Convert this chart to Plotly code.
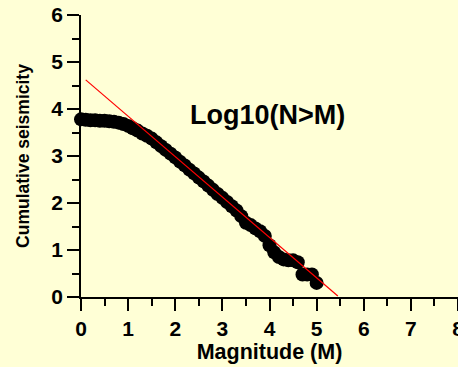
import plotly.graph_objects as go

# Data
magnitude = [0.0, 0.1, 0.2, 0.3, 0.4, 0.5, 0.6, 0.7, 0.8, 0.9,
             1.0, 1.1, 1.2, 1.3, 1.4, 1.5, 1.6, 1.7, 1.8, 1.9,
             2.0, 2.1, 2.2, 2.3, 2.4, 2.5, 2.6, 2.7, 2.8, 2.9,
             3.0, 3.1, 3.2, 3.3, 3.4, 3.5, 3.6, 3.7, 3.8, 3.9,
             4.0, 4.1, 4.2, 4.3, 4.4, 4.5, 4.6, 4.7, 4.8, 4.9, 5.0]
log_cum = [3.78, 3.77, 3.76, 3.76, 3.75, 3.75, 3.74, 3.73, 3.71, 3.68,
           3.64, 3.59, 3.54, 3.48, 3.43, 3.37, 3.29, 3.21, 3.13, 3.05,
           2.97, 2.88, 2.80, 2.71, 2.63, 2.54, 2.46, 2.37, 2.28, 2.19,
           2.11, 2.02, 1.93, 1.84, 1.72, 1.58, 1.53, 1.46, 1.40, 1.30,
           1.10, 0.95, 0.85, 0.80, 0.78, 0.78, 0.74, 0.48, 0.48, 0.48, 0.30]
fit_m = [0.1, 5.45]
fit_val = [4.62, 0.02]

x_ticks = [0, 1, 2, 3, 4, 5, 6, 7, 8]
y_ticks = [0, 1, 2, 3, 4, 5, 6]

BG = "#FFFFD6"
FONT = "Arial, 'Liberation Sans', sans-serif"

fig = go.Figure()
fig.add_trace(go.Scatter(
    x=magnitude, y=log_cum, mode="markers",
    marker=dict(size=14, color="black", line=dict(width=0)),
    cliponaxis=False, showlegend=False, hoverinfo="skip"))
fig.add_trace(go.Scatter(
    x=fit_m, y=fit_val, mode="lines",
    line=dict(color="red", width=1.2),
    cliponaxis=False, showlegend=False, hoverinfo="skip"))

fig.add_annotation(x=3.96, y=3.88, xref="x", yref="y",
                   text="Log10(N>M)", showarrow=False,
                   font=dict(family=FONT, size=27, color="black", weight="bold"),
                   xanchor="center", yanchor="middle")

axis_common = dict(
    showline=True, linecolor="black", linewidth=1.5,
    ticks="outside", ticklen=12, tickwidth=1.5, tickcolor="black",
    showgrid=False, zeroline=False, automargin=False,
    tickfont=dict(family=FONT, size=21, color="black", weight="bold"),
    minor=dict(dtick=0.5, ticks="outside", ticklen=7, tickwidth=1.5, tickcolor="black", showgrid=False),
)

fig.update_xaxes(range=[0, 8], tickvals=x_ticks, ticktext=[str(v) for v in x_ticks],
                 ticklabeloverflow="allow",
                 title=dict(text="Magnitude (M)", standoff=5,
                            font=dict(family=FONT, size=21.5, color="black", weight="bold")),
                 **axis_common)
fig.update_yaxes(range=[0, 6], tickvals=y_ticks, ticktext=[str(v) for v in y_ticks],
                 title=dict(text="Cumulative seismicity", standoff=17,
                            font=dict(family=FONT, size=17.5, color="black", weight="bold")),
                 **axis_common)

fig.update_layout(
    width=458, height=367,
    margin=dict(l=81, r=0, t=15, b=70),
    paper_bgcolor=BG, plot_bgcolor=BG,
)

fig.write_html("out.html")
